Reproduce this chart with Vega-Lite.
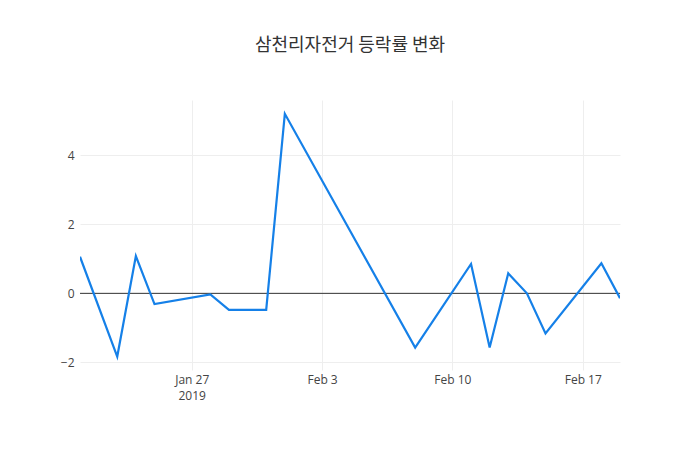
{
  "$schema": "https://vega.github.io/schema/vega-lite/v6.json",
  "autosize": "none",
  "width": 540,
  "height": 270,
  "padding": {"left": 80, "top": 100, "right": 80, "bottom": 80},
  "background": "white",
  "title": {
    "text": "삼천리자전거 등락률 변화",
    "font": "Noto Sans CJK KR",
    "fontSize": 18,
    "fontWeight": "normal",
    "color": "#333333",
    "anchor": "middle",
    "offset": 45
  },
  "config": {
    "view": {"stroke": null},
    "axis": {
      "labelFont": "Open Sans",
      "labelFontSize": 12,
      "labelColor": "#444444",
      "gridColor": "#eeeeee",
      "gridWidth": 1,
      "domain": false,
      "ticks": false,
      "title": null
    }
  },
  "data": {
    "values": [
      {"date": "2019-01-21", "rate": 1.06},
      {"date": "2019-01-23", "rate": -1.83},
      {"date": "2019-01-24", "rate": 1.08},
      {"date": "2019-01-25", "rate": -0.31},
      {"date": "2019-01-28", "rate": -0.03},
      {"date": "2019-01-29", "rate": -0.48},
      {"date": "2019-01-31", "rate": -0.48},
      {"date": "2019-02-01", "rate": 5.2},
      {"date": "2019-02-08", "rate": -1.57},
      {"date": "2019-02-11", "rate": 0.85},
      {"date": "2019-02-12", "rate": -1.57},
      {"date": "2019-02-13", "rate": 0.58},
      {"date": "2019-02-14", "rate": 0.0},
      {"date": "2019-02-15", "rate": -1.16},
      {"date": "2019-02-18", "rate": 0.87},
      {"date": "2019-02-19", "rate": -0.14}
    ]
  },
  "layer": [
    {
      "mark": {"type": "rule", "color": "#333333", "strokeWidth": 1},
      "data": {"values": [{"zero": 0}]},
      "encoding": {
        "y": {"field": "zero", "type": "quantitative", "scale": {"domain": [-2.22, 5.6], "nice": false}}
      }
    },
    {
      "mark": {"type": "line", "color": "#1580e8", "strokeWidth": 2.2, "clip": true},
      "encoding": {
        "x": {
          "field": "date",
          "type": "temporal",
          "scale": {"domain": [{"year": 2019, "month": 1, "date": 21}, {"year": 2019, "month": 2, "date": 19}], "nice": false},
          "axis": {
            "values": [
              {"year": 2019, "month": 1, "date": 27},
              {"year": 2019, "month": 2, "date": 3},
              {"year": 2019, "month": 2, "date": 10},
              {"year": 2019, "month": 2, "date": 17}
            ],
            "labelExpr": "month(datum.value) == 0 ? [timeFormat(datum.value, '%b %-d'), '2019'] : timeFormat(datum.value, '%b %-d')",
            "labelPadding": 4,
            "labelLineHeight": 16
          }
        },
        "y": {
          "field": "rate",
          "type": "quantitative",
          "scale": {"domain": [-2.22, 5.6], "nice": false},
          "axis": {"values": [-2, 0, 2, 4], "labelPadding": 6, "format": "d", "labelExpr": "replace(datum.label, '-', '−')"}
        }
      }
    }
  ]
}
